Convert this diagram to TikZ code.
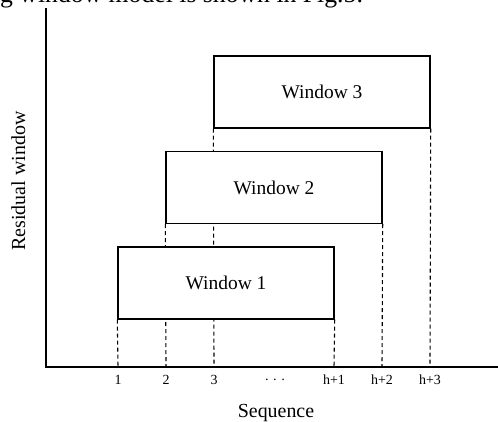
\documentclass[tikz,border=0pt]{standalone}
\usepackage{fontspec}
\setmainfont{Liberation Serif}
\begin{document}
\begin{tikzpicture}[x=1bp,y=-1bp,
  axis/.style={line width=1.7bp},
  winbox/.style={draw,fill=white,line width=1.4bp,minimum width=216bp,minimum height=72bp,inner sep=0pt,font=\fontsize{19.5}{22}\selectfont},
  guide/.style={line width=1.1bp,dash pattern=on 4bp off 3bp},
  ticklab/.style={anchor=base,inner sep=0pt,font=\fontsize{14}{16}\selectfont},
  axlab/.style={anchor=base,inner sep=0pt,font=\fontsize{20}{22}\selectfont}]
\useasboundingbox (0,0) rectangle (498,421);
\clip (0,0) rectangle (498,421);

% running text of the page above the figure
\node[anchor=base west,inner sep=0pt,font=\fontsize{25.8}{28}\selectfont] (line) at (0,2.6) {g window model is shown in Fig.5.};

% axes
\coordinate (origin) at (46,367);
\coordinate (ytop) at (46,8);
\coordinate (xend) at (498,367);
\draw[axis] (ytop) -- (origin) -- (xend);

% windows
\node[winbox] (w1) at (226,283) {Window 1};
\node[winbox] (w2) at (274,187.5) {Window 2};
\node[winbox] (w3) at (322,92) {Window 3};

% tick positions on the sequence axis
\foreach \n/\x in {t1/118,t2/166,t3/214,th1/334,th2/382,th3/430}
  \coordinate (\n) at (\x,367);

% dashed guides from window corners down to the axis
\draw[guide] (w1.south west) -- (t1);
\draw[guide] (w1.south east) -- (th1);
\draw[guide] (w2.south west) -- (t2);
\draw[guide] (w2.south east) -- (th2);
\draw[guide] (w3.south west) -- (t3);
\draw[guide] (w3.south east) -- (th3);

% redraw windows on top of the guides
\node[winbox] at (w1) {Window 1};
\node[winbox] at (w2) {Window 2};
\node[winbox] at (w3) {Window 3};

% tick labels
\node[ticklab] (l1) at (118,384) {1};
\node[ticklab] (l2) at (166,384) {2};
\node[ticklab] (l3) at (214,384) {3};
\node[ticklab] (ld) at (275,384) {· · ·};
\node[ticklab] (lh1) at (334,384) {h+1};
\node[ticklab] (lh2) at (382,384) {h+2};
\node[ticklab] (lh3) at (430,384) {h+3};

% axis titles
\node[axlab] (xlab) at (276,417) {Sequence};
\node[axlab,rotate=90] (ylab) at (25,181) {Residual window};
\end{tikzpicture}
\end{document}
